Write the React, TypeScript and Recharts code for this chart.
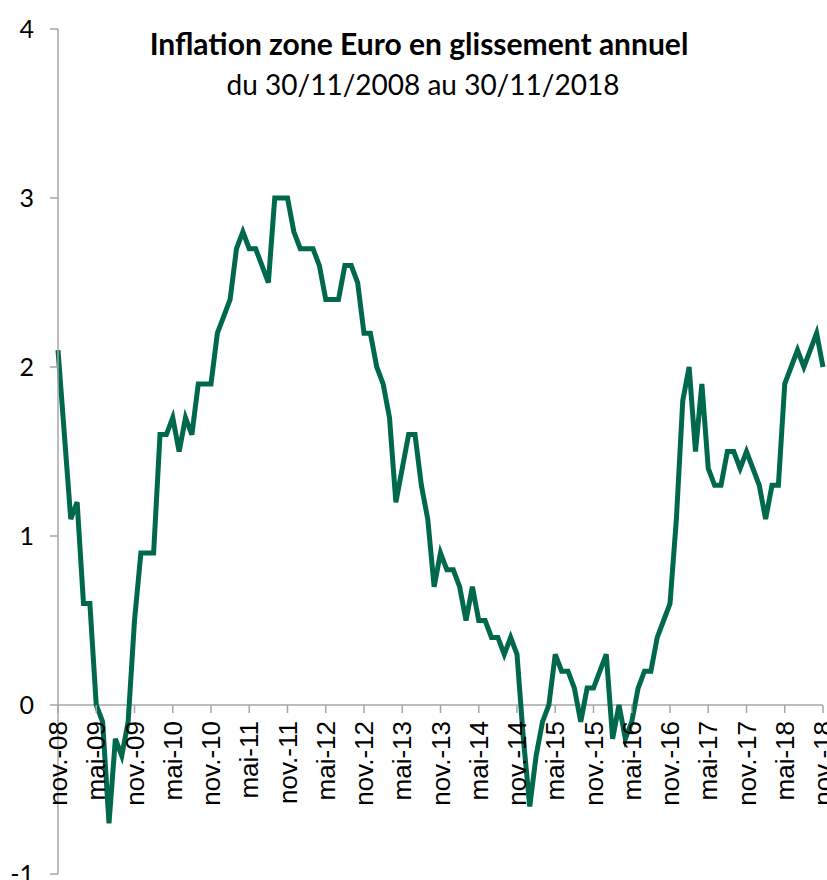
import React from "react";
import { LineChart, Line, XAxis, YAxis, ReferenceLine, ReferenceDot } from "recharts";

// Inflation zone Euro, glissement annuel (%), nov. 2008 -> nov. 2018
const MONTH_ABBR = ["janv.", "févr.", "mars", "avr.", "mai", "juin", "juil.", "août", "sept.", "oct.", "nov.", "déc."];

const INFLATION = [
  2.1, 1.6, 1.1, 1.2, 0.6, 0.6, 0.0, -0.1, -0.7, -0.2, -0.3, -0.1,
  0.5, 0.9, 0.9, 0.9, 1.6, 1.6, 1.7, 1.5, 1.7, 1.6, 1.9, 1.9,
  1.9, 2.2, 2.3, 2.4, 2.7, 2.8, 2.7, 2.7, 2.6, 2.5, 3.0, 3.0,
  3.0, 2.8, 2.7, 2.7, 2.7, 2.6, 2.4, 2.4, 2.4, 2.6, 2.6, 2.5,
  2.2, 2.2, 2.0, 1.9, 1.7, 1.2, 1.4, 1.6, 1.6, 1.3, 1.1, 0.7,
  0.9, 0.8, 0.8, 0.7, 0.5, 0.7, 0.5, 0.5, 0.4, 0.4, 0.3, 0.4,
  0.3, -0.2, -0.6, -0.3, -0.1, 0.0, 0.3, 0.2, 0.2, 0.1, -0.1, 0.1,
  0.1, 0.2, 0.3, -0.2, 0.0, -0.2, -0.1, 0.1, 0.2, 0.2, 0.4, 0.5,
  0.6, 1.1, 1.8, 2.0, 1.5, 1.9, 1.4, 1.3, 1.3, 1.5, 1.5, 1.4,
  1.5, 1.4, 1.3, 1.1, 1.3, 1.3, 1.9, 2.0, 2.1, 2.0, 2.1, 2.2,
  2.0,
];

// month labels, starting nov. 2008
const MONTHS = INFLATION.map((_, i) => {
  const m = (10 + i) % 12;
  const y = 2008 + Math.floor((10 + i) / 12);
  return `${MONTH_ABBR[m]}-${String(y % 100).padStart(2, "0")}`;
});

const X_TICKS = [
  "nov.-08", "mai-09", "nov.-09", "mai-10", "nov.-10", "mai-11", "nov.-11",
  "mai-12", "nov.-12", "mai-13", "nov.-13", "mai-14", "nov.-14", "mai-15",
  "nov.-15", "mai-16", "nov.-16", "mai-17", "nov.-17", "mai-18", "nov.-18",
];

const Y_TICKS = [-1, 0, 1, 2, 3, 4];

const LINE_COLOR = "#00684D";
const AXIS_COLOR = "#A6A6A6";

const data = MONTHS.map((month, i) => ({ month, value: INFLATION[i] }));

// tick mark + rotated label drawn on the zero line
const ZeroTick = ({ cx, cy, label }: any) => (
  <g>
    <line x1={cx} y1={cy} x2={cx} y2={cy + 8} stroke={AXIS_COLOR} strokeWidth={1.5} />
    <text
      transform={`translate(${cx}, ${cy + 16}) rotate(-90)`}
      textAnchor="end"
      dominantBaseline="central"
      fontFamily="'Liberation Sans', Arial, sans-serif"
      fontSize={26}
      fill="#000"
    >
      {label}
    </text>
  </g>
);

export default function App() {
  return (
    <div style={{ position: "absolute", left: 0, top: 0, width: 827, height: 880, background: "#fff" }}>
      <LineChart width={827} height={880} data={data} margin={{ top: 29, right: 4, bottom: 6, left: 0 }}>
        <XAxis dataKey="month" hide />
        <YAxis
          domain={[-1, 4]}
          ticks={Y_TICKS}
          interval={0}
          width={58}
          axisLine={{ stroke: AXIS_COLOR, strokeWidth: 1.5 }}
          tickLine={{ stroke: AXIS_COLOR, strokeWidth: 1.5 }}
          tickSize={8}
          tickMargin={16}
          tick={{ fontFamily: "Lato, sans-serif", fontSize: 25, fill: "#000" }}
        />
        <ReferenceLine y={0} stroke={AXIS_COLOR} strokeWidth={1.5} />
        {X_TICKS.map((t) => (
          <ReferenceDot
            key={t}
            x={t}
            y={0}
            shape={(p: any) => <ZeroTick cx={p.cx} cy={p.cy} label={t} />}
          />
        ))}
        <Line
          type="linear"
          dataKey="value"
          stroke={LINE_COLOR}
          strokeWidth={5}
          dot={false}
          isAnimationActive={false}
        />
      </LineChart>
      <svg width={827} height={120} style={{ position: "absolute", left: 0, top: 0, pointerEvents: "none" }}>
        <text x={419} y={55} textAnchor="middle" fontFamily="Lato, sans-serif" fontWeight={700} fontSize={30} fill="#000">
          Inflation zone Euro en glissement annuel
        </text>
        <text x={423} y={95} textAnchor="middle" fontFamily="Lato, sans-serif" fontSize={28} fill="#000">
          du 30/11/2008 au 30/11/2018
        </text>
      </svg>
    </div>
  );
}
